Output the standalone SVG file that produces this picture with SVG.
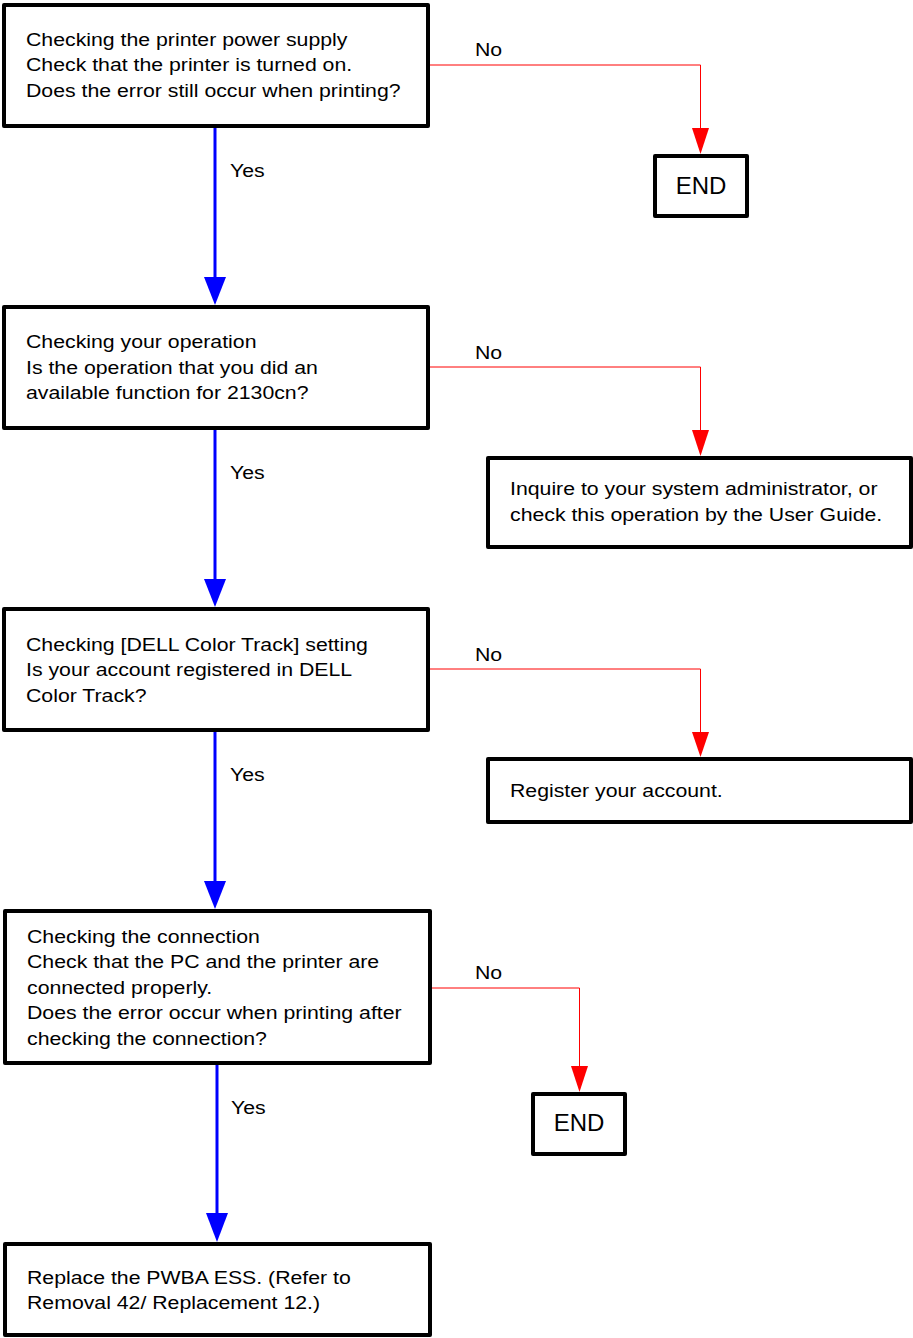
<svg xmlns="http://www.w3.org/2000/svg" width="913" height="1338" viewBox="0 0 913 1338">
<style>
.box{fill:#fff;stroke:#000;stroke-width:4;stroke-linejoin:round}
.t{font-family:"Liberation Sans",Arial,sans-serif;font-size:18.5px;fill:#000}
.e{font-family:"Liberation Sans",Arial,sans-serif;font-size:24px;fill:#000;text-anchor:middle}
.yes{stroke:#0000ff;stroke-width:3;fill:none}
.no{stroke:#ff0000;stroke-width:1;fill:none}
.ya{fill:#0000ff}
.na{fill:#ff0000}
</style>
<rect width="913" height="1338" fill="#fff"/>
<g id="connectors">
<line class="yes" x1="215" y1="126" x2="215" y2="280"/>
<polygon class="ya" points="204,277 226,277 215,305"/>
<line class="yes" x1="215" y1="428" x2="215" y2="582"/>
<polygon class="ya" points="204,579 226,579 215,607"/>
<line class="yes" x1="215" y1="730" x2="215" y2="884"/>
<polygon class="ya" points="204,881 226,881 215,909"/>
<line class="yes" x1="217" y1="1063" x2="217" y2="1216"/>
<polygon class="ya" points="206,1213 228,1213 217,1242"/>
<polyline class="no" points="428,65 700.5,65 700.5,130"/>
<polygon class="na" points="692,128 709,128 700.5,154"/>
<polyline class="no" points="428,367 700.5,367 700.5,432"/>
<polygon class="na" points="692,430 709,430 700.5,456"/>
<polyline class="no" points="428,669 700.5,669 700.5,734"/>
<polygon class="na" points="692,732 709,732 700.5,757"/>
<polyline class="no" points="430,988 579.5,988 579.5,1068"/>
<polygon class="na" points="571,1066 588,1066 579.5,1092"/>
<g transform="translate(230,0) scale(1.15,1)">
<text class="t" x="0" y="177">Yes</text>
<text class="t" x="0" y="479">Yes</text>
<text class="t" x="0" y="781">Yes</text>
</g>
<g transform="translate(231,0) scale(1.15,1)">
<text class="t" x="0" y="1114">Yes</text>
</g>
<g transform="translate(475,0) scale(1.15,1)">
<text class="t" x="0" y="56">No</text>
<text class="t" x="0" y="359">No</text>
<text class="t" x="0" y="661">No</text>
<text class="t" x="0" y="979">No</text>
</g>
</g>
<g id="n1">
<rect class="box" x="4" y="5" width="424" height="121"/>
<g transform="translate(26,0) scale(1.15,1)">
<text class="t" x="0" y="46">Checking the printer power supply</text>
<text class="t" x="0" y="71">Check that the printer is turned on.</text>
<text class="t" x="0" y="97">Does the error still occur when printing?</text>
</g>
</g>
<g id="end1">
<rect class="box" x="655" y="156" width="92" height="60"/>
<text class="e" x="701" y="194">END</text>
</g>
<g id="n2">
<rect class="box" x="4" y="307" width="424" height="121"/>
<g transform="translate(26,0) scale(1.15,1)">
<text class="t" x="0" y="348">Checking your operation</text>
<text class="t" x="0" y="374">Is the operation that you did an</text>
<text class="t" x="0" y="399">available function for 2130cn?</text>
</g>
</g>
<g id="n3">
<rect class="box" x="488" y="458" width="423" height="89"/>
<g transform="translate(510,0) scale(1.15,1)">
<text class="t" x="0" y="495">Inquire to your system administrator, or</text>
<text class="t" x="0" y="521">check this operation by the User Guide.</text>
</g>
</g>
<g id="n4">
<rect class="box" x="4" y="609" width="424" height="121"/>
<g transform="translate(26,0) scale(1.15,1)">
<text class="t" x="0" y="651">Checking [DELL Color Track] setting</text>
<text class="t" x="0" y="676">Is your account registered in DELL</text>
<text class="t" x="0" y="702">Color Track?</text>
</g>
</g>
<g id="n5">
<rect class="box" x="488" y="759" width="423" height="63"/>
<g transform="translate(510,0) scale(1.15,1)">
<text class="t" x="0" y="797">Register your account.</text>
</g>
</g>
<g id="n6">
<rect class="box" x="5" y="911" width="425" height="152"/>
<g transform="translate(27,0) scale(1.15,1)">
<text class="t" x="0" y="943">Checking the connection</text>
<text class="t" x="0" y="968">Check that the PC and the printer are</text>
<text class="t" x="0" y="994">connected properly.</text>
<text class="t" x="0" y="1019">Does the error occur when printing after</text>
<text class="t" x="0" y="1045">checking the connection?</text>
</g>
</g>
<g id="end2">
<rect class="box" x="533" y="1094" width="92" height="60"/>
<text class="e" x="579" y="1131">END</text>
</g>
<g id="n7">
<rect class="box" x="5" y="1244" width="425" height="91"/>
<g transform="translate(27,0) scale(1.15,1)">
<text class="t" x="0" y="1284">Replace the PWBA ESS. (Refer to</text>
<text class="t" x="0" y="1309">Removal 42/ Replacement 12.)</text>
</g>
</g>
</svg>
